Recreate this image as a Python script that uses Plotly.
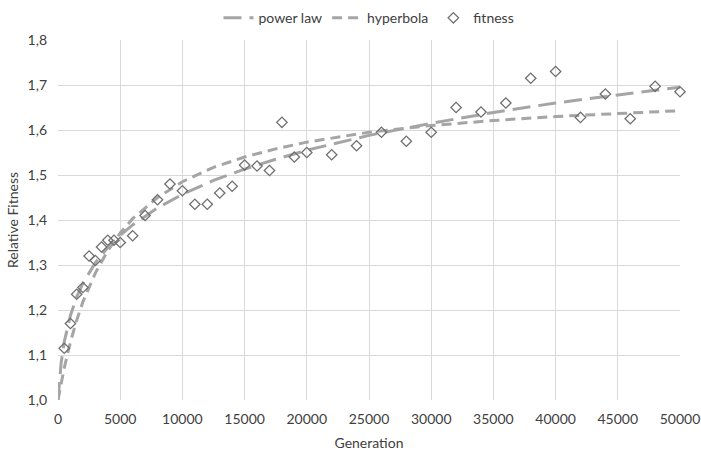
import plotly.graph_objects as go

# Observed fitness
gen = [500, 1000, 1500, 2000, 2500, 3000, 3500, 4000, 4500, 5000, 6000, 7000, 8000, 9000,
       10000, 11000, 12000, 13000, 14000, 15000, 16000, 17000, 18000, 19000, 20000,
       22000, 24000, 26000, 28000, 30000, 32000, 34000, 36000, 38000, 40000, 42000,
       44000, 46000, 48000, 50000]
fitness = [1.115, 1.17, 1.235, 1.25, 1.32, 1.31, 1.34, 1.355, 1.355, 1.35, 1.365, 1.41,
           1.445, 1.48, 1.465, 1.435, 1.435, 1.46, 1.475, 1.522, 1.52, 1.51, 1.617, 1.54,
           1.55, 1.545, 1.565, 1.595, 1.575, 1.595, 1.65, 1.64, 1.66, 1.715, 1.73, 1.628,
           1.68, 1.625, 1.697, 1.685]

# Fitted curves
curve_gen = [0, 100, 250, 500, 1000, 1500, 2000, 3000, 4000, 5000, 6000, 8000, 10000,
             12500, 15000, 17500, 20000, 25000, 30000, 35000, 40000, 45000, 50000]
power_law = [1.0, 1.040, 1.082, 1.129, 1.188, 1.229, 1.259, 1.305, 1.339, 1.366, 1.389,
             1.427, 1.457, 1.488, 1.513, 1.535, 1.555, 1.588, 1.615, 1.639, 1.660, 1.678, 1.695]
hyperbola = [1.0, 1.015, 1.037, 1.071, 1.129, 1.177, 1.218, 1.282, 1.332, 1.371, 1.403,
             1.450, 1.485, 1.517, 1.540, 1.558, 1.573, 1.595, 1.610, 1.621, 1.630, 1.637, 1.643]

x_ticks = [0, 5000, 10000, 15000, 20000, 25000, 30000, 35000, 40000, 45000, 50000]
y_ticks = [1.0, 1.1, 1.2, 1.3, 1.4, 1.5, 1.6, 1.7, 1.8]

gray = "#A5A5A5"
fig = go.Figure()
fig.add_trace(go.Scatter(x=curve_gen, y=power_law, mode="lines", name="power law",
                         line=dict(color=gray, width=3, dash="18px,8px")))
fig.add_trace(go.Scatter(x=curve_gen, y=hyperbola, mode="lines", name="hyperbola",
                         line=dict(color=gray, width=3, dash="10px,6px")))
fig.add_trace(go.Scatter(x=gen, y=fitness, mode="markers", name="fitness", cliponaxis=False,
                         marker=dict(symbol="diamond-open", size=8, color="#6F6F6F",
                                     line=dict(width=1.3, color="#6F6F6F"))))

font = "Lato, 'Open Sans', sans-serif"
fig.update_layout(
    width=701, height=453,
    margin=dict(l=58, r=21, t=40, b=53),
    paper_bgcolor="white", plot_bgcolor="white",
    separators=",.",
    font=dict(family=font, size=14, color="#404040"),
    showlegend=True,
    legend=dict(orientation="h", x=0.5, xanchor="center", y=0.995, yanchor="top",
                yref="container", font=dict(size=14, color="#404040"),
                itemwidth=30, tracegroupgap=0),
    xaxis=dict(range=[0, 50000], tickvals=x_ticks, tickformat="d", automargin=False,
               showgrid=True, gridcolor="#D9D9D9", gridwidth=1,
               zeroline=False, showline=False, ticks="", ticklabelstandoff=9,
               title=dict(text="Generation", font=dict(size=14), standoff=12),
               tickfont=dict(size=14)),
    yaxis=dict(range=[1.0, 1.8], tickvals=y_ticks, tickformat=".1f", automargin=False,
               showgrid=True, gridcolor="#D9D9D9", gridwidth=1,
               zeroline=False, showline=False, ticks="", ticklabelstandoff=10,
               title=dict(text="Relative Fitness", font=dict(size=14), standoff=5),
               tickfont=dict(size=14)),
)
fig.write_html("out.html")
